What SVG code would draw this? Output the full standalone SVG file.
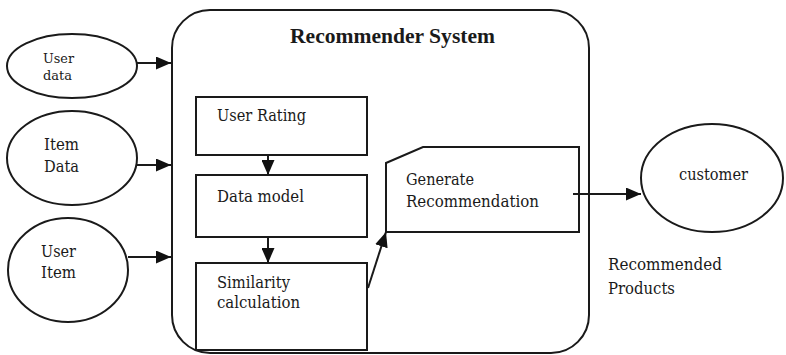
<svg xmlns="http://www.w3.org/2000/svg" width="786" height="355" viewBox="0 0 786 355">
<style>
  .shape { fill: #fff; stroke: #1a1a1a; stroke-width: 2; }
  .t { font-family: "DejaVu Serif", "Liberation Serif", serif; font-size: 16px; fill: #1a1a1a; }
  .small { font-size: 12.5px; }
  .title { font-family: "Liberation Serif", "Times New Roman", serif; font-size: 20px; font-weight: bold; }
  .conn { stroke: #1a1a1a; stroke-width: 2; fill: none; marker-end: url(#arrow); }
</style>
<defs>
  <marker id="arrow" markerUnits="userSpaceOnUse" markerWidth="15" markerHeight="13" refX="15" refY="6.5" orient="auto">
    <path d="M0,0 L15,6.5 L0,13 z" fill="#111"/>
  </marker>
</defs>
<rect width="786" height="355" fill="#fff"/>

<g id="recommender-system">
  <rect class="shape" x="172" y="10" width="417" height="343" rx="38" ry="38"/>
  <text class="t title" x="290" y="43" textLength="205" lengthAdjust="spacingAndGlyphs">Recommender System</text>
</g>

<g id="user-data">
  <ellipse class="shape" cx="72" cy="66" rx="65" ry="32"/>
  <text class="t small" x="43" y="63" textLength="31" lengthAdjust="spacingAndGlyphs">User</text>
  <text class="t small" x="43" y="80" textLength="29" lengthAdjust="spacingAndGlyphs">data</text>
</g>

<g id="item-data">
  <ellipse class="shape" cx="72" cy="158" rx="65" ry="47"/>
  <text class="t" x="44" y="150" textLength="35" lengthAdjust="spacingAndGlyphs">Item</text>
  <text class="t" x="44" y="172" textLength="35" lengthAdjust="spacingAndGlyphs">Data</text>
</g>

<g id="user-item">
  <ellipse class="shape" cx="68" cy="270" rx="60" ry="52"/>
  <text class="t" x="41" y="257" textLength="35" lengthAdjust="spacingAndGlyphs">User</text>
  <text class="t" x="41" y="278" textLength="35" lengthAdjust="spacingAndGlyphs">Item</text>
</g>

<g id="user-rating">
  <rect class="shape" x="196" y="97" width="171" height="58"/>
  <text class="t" x="217" y="121" textLength="89" lengthAdjust="spacingAndGlyphs">User Rating</text>
</g>

<g id="data-model">
  <rect class="shape" x="196" y="175" width="171" height="62"/>
  <text class="t" x="217" y="202" textLength="87" lengthAdjust="spacingAndGlyphs">Data model</text>
</g>

<g id="similarity-calculation">
  <rect class="shape" x="196" y="263" width="171" height="87"/>
  <text class="t" x="217" y="288" textLength="73" lengthAdjust="spacingAndGlyphs">Similarity</text>
  <text class="t" x="217" y="308" textLength="83" lengthAdjust="spacingAndGlyphs">calculation</text>
</g>

<g id="generate-recommendation">
  <path class="shape" d="M386,163 L423,147 L579,147 L579,232 L386,232 Z"/>
  <text class="t" x="406" y="185" textLength="68" lengthAdjust="spacingAndGlyphs">Generate</text>
  <text class="t" x="406" y="207" textLength="133" lengthAdjust="spacingAndGlyphs">Recommendation</text>
</g>

<g id="customer">
  <ellipse class="shape" cx="712" cy="178" rx="71" ry="54"/>
  <text class="t" x="679" y="180" textLength="69" lengthAdjust="spacingAndGlyphs">customer</text>
</g>

<g id="recommended-products">
  <text class="t" x="608" y="270" textLength="114" lengthAdjust="spacingAndGlyphs">Recommended</text>
  <text class="t" x="608" y="294" textLength="67" lengthAdjust="spacingAndGlyphs">Products</text>
</g>

<g id="connectors">
  <line class="conn" x1="137" y1="63" x2="171" y2="63"/>
  <line class="conn" x1="137" y1="165" x2="171" y2="165"/>
  <line class="conn" x1="128" y1="257" x2="171" y2="257"/>
  <line class="conn" x1="268" y1="155" x2="268" y2="175"/>
  <line class="conn" x1="268" y1="237" x2="268" y2="263"/>
  <line class="conn" x1="368" y1="288" x2="386" y2="232"/>
  <line class="conn" x1="573" y1="194" x2="641" y2="194"/>
</g>
</svg>
